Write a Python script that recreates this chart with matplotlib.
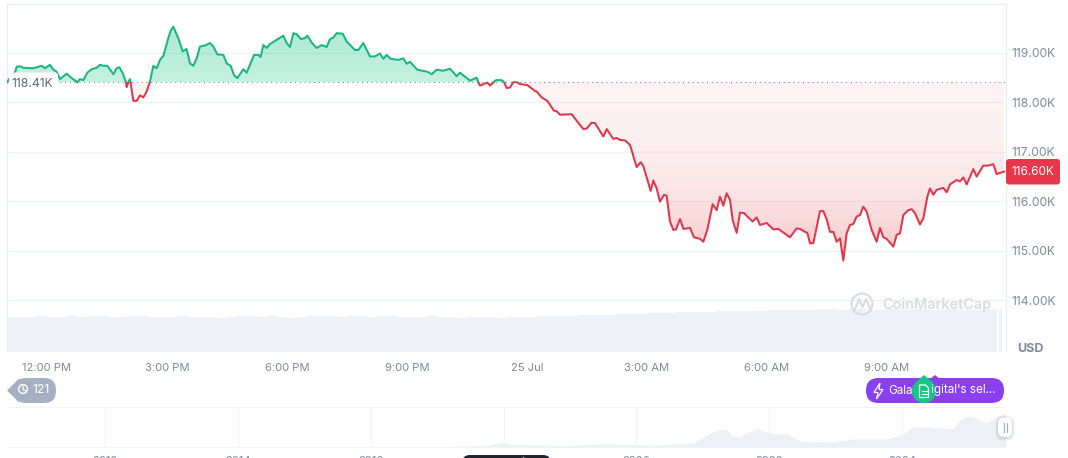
import numpy as np
import matplotlib
matplotlib.use("Agg")
import matplotlib.pyplot as plt
from matplotlib.patches import Rectangle, FancyBboxPatch, Circle, Polygon, PathPatch
from matplotlib.path import Path

plt.rcParams['font.family'] = ['Inter', 'DejaVu Sans']

W, H = 1068, 458

# price, minutes after 12:00 PM on 24 Jul, in thousands of USD
price_minutes = [-60, -57, -47.5, -45.5, -40.5, -35.5, -20.5, -8, -3, 4.5, 9.5, 14.5, 19.5, 29.5, 37, 45.5, 49.5, 54.5,
    60.5, 67, 74.5, 79.5, 84.5, 90.5, 99.5, 104.5, 108.5, 113.5, 118.5, 119.5, 121.5, 124.5, 129.5, 134.5, 139.5,
    144.5, 149.5, 154.5, 159.5, 164.5, 169.5, 174.5, 182, 185.5, 189.5, 197, 203.5, 209.5, 214.5, 219.5, 224.5,
    229.5, 237, 244.5, 249.5, 255.5, 264.5, 269.5, 275.5, 280.5, 285.5, 294.5, 299.5, 310.5, 317, 320.5, 324.5,
    329.5, 334.5, 354.5, 359.5, 364.5, 369.5, 374.5, 381, 387, 390.5, 397, 404.5, 412, 419.5, 424.5, 429.5, 434.5,
    443.5, 449.5, 462, 467, 474.5, 484.5, 492, 499.5, 504.5, 509.5, 515.5, 527, 534.5, 539.5, 544.5, 555.5, 570.5,
    577, 584.5, 594.5, 604.5, 614.5, 619.5, 634.5, 644.5, 647, 649.5, 660.5, 664.5, 673.5, 682, 685.5, 689.5, 694.5,
    699.5, 704.5, 709.5, 720.5, 732, 734.5, 742, 750.5, 760.5, 764.5, 769.5, 787, 799.5, 804.5, 809.5, 817, 822,
    834.5, 839.5, 849.5, 854.5, 859.5, 867, 874.5, 884.5, 890.5, 894.5, 905.5, 909.5, 914.5, 919.5, 925.5, 929.5,
    934.5, 939.5, 943.5, 949.5, 954.5, 964.5, 970.5, 979.5, 984.5, 990.5, 998.5, 1004.5, 1009.5, 1014.5, 1019.5,
    1024.5, 1028.5, 1034.5, 1039.5, 1045.5, 1052, 1058.5, 1064.5, 1069.5, 1079.5, 1089.5, 1097, 1114.5, 1124.5,
    1129.5, 1137, 1140.5, 1144.5, 1149.5, 1159.5, 1164.5, 1169.5, 1174.5, 1179.5, 1184.5, 1189.5, 1194.5, 1199.5,
    1204.5, 1209.5, 1214.5, 1219.5, 1224.5, 1229.5, 1237, 1244.5, 1249.5, 1254.5, 1259.5, 1269.5, 1274.5, 1279.5,
    1284.5, 1292, 1297, 1302, 1309.5, 1314.5, 1320.5, 1324.5, 1329.5, 1334.5, 1344.5, 1349.5, 1354.5, 1364.5,
    1369.5, 1374.5, 1379.5, 1389.5, 1394.5, 1404.5, 1412, 1419.5, 1424.5, 1435.5]
price_k = [118.41, 118.47, 118.62, 118.72, 118.73, 118.70, 118.69, 118.74, 118.69, 118.76, 118.66, 118.62, 118.47, 118.58,
    118.49, 118.41, 118.47, 118.45, 118.60, 118.67, 118.70, 118.76, 118.74, 118.74, 118.57, 118.69, 118.71, 118.59,
    118.41, 118.31, 118.39, 118.47, 118.03, 118.03, 118.14, 118.10, 118.22, 118.42, 118.74, 118.69, 118.86, 118.94,
    119.30, 119.45, 119.53, 119.30, 119.03, 119.08, 118.79, 118.74, 118.89, 119.13, 119.15, 119.20, 119.13, 118.97,
    118.96, 118.79, 118.74, 118.55, 118.49, 118.67, 118.60, 118.96, 118.96, 118.92, 119.16, 119.10, 119.18, 119.35,
    119.20, 119.12, 119.40, 119.38, 119.28, 119.30, 119.35, 119.21, 119.10, 119.16, 119.12, 119.28, 119.31, 119.40,
    119.39, 119.23, 119.06, 119.06, 119.20, 118.93, 118.93, 118.99, 118.88, 118.96, 118.88, 118.86, 118.89, 118.78,
    118.82, 118.66, 118.62, 118.57, 118.66, 118.64, 118.68, 118.53, 118.60, 118.44, 118.50, 118.41, 118.34, 118.40,
    118.34, 118.45, 118.45, 118.41, 118.29, 118.30, 118.41, 118.41, 118.37, 118.35, 118.23, 118.22, 118.10, 118.03,
    117.83, 117.82, 117.75, 117.76, 117.54, 117.46, 117.47, 117.59, 117.58, 117.31, 117.46, 117.26, 117.28, 117.24,
    117.23, 117.14, 116.69, 116.79, 116.71, 116.21, 116.42, 116.26, 115.99, 116.13, 116.11, 115.59, 115.42, 115.43,
    115.64, 115.44, 115.46, 115.27, 115.24, 115.18, 115.42, 115.94, 115.82, 116.09, 115.91, 116.16, 116.03, 115.62,
    115.36, 115.77, 115.76, 115.67, 115.59, 115.67, 115.52, 115.56, 115.43, 115.44, 115.27, 115.45, 115.44, 115.38,
    115.36, 115.15, 115.15, 115.80, 115.80, 115.63, 115.38, 115.38, 115.18, 115.25, 114.80, 115.35, 115.52, 115.54,
    115.69, 115.72, 115.89, 115.79, 115.42, 115.18, 115.46, 115.27, 115.24, 115.08, 115.32, 115.35, 115.72, 115.82,
    115.84, 115.76, 115.53, 115.65, 116.09, 116.26, 116.13, 116.23, 116.27, 116.18, 116.34, 116.43, 116.40, 116.48,
    116.34, 116.65, 116.50, 116.72, 116.72, 116.75, 116.55, 116.60]
baseline = 118.41
last_price = 116.60

# volume, one value per 15 minutes from the left edge, billions
volume = [70, 71, 70, 72, 71, 70, 72, 71, 73, 72, 71, 70, 72, 73, 71, 70, 71, 72, 70, 71,
    70, 69, 71, 72, 73, 71, 72, 70, 69, 71, 72, 73, 72, 71, 73, 72, 71, 72, 73, 71,
    70, 71, 72, 71, 70, 69, 70, 71, 70, 69, 70, 71, 71, 72, 72, 73, 73, 74, 74, 75,
    75, 76, 77, 77, 78, 78, 79, 80, 80, 81, 81, 82, 82, 83, 83, 83, 84, 84, 85, 85,
    85, 86, 86, 85, 86, 86, 85, 85, 86, 85, 85, 86, 85, 85, 86, 85, 85, 85, 86]
volume_last = 86

y_ticks = [114, 115, 116, 117, 118, 119]
x_ticks = [0, 180, 360, 540, 720, 900, 1080, 1260]
x_labels = ["12:00 PM", "3:00 PM", "6:00 PM", "9:00 PM", "25 Jul", "3:00 AM", "6:00 AM", "9:00 AM"]

# long range price under the main chart
nav_years = [2010.52, 2013.0, 2013.85, 2014.1, 2015.0, 2016.5, 2017.0, 2017.5, 2017.8, 2017.96, 2018.1, 2018.5, 2018.9,
    2019.5, 2020.2, 2020.6, 2020.86, 2021.06, 2021.26, 2021.36, 2021.46, 2021.56, 2021.68, 2021.81, 2021.96, 2022.11,
    2022.27, 2022.47, 2022.77, 2023.02, 2023.27, 2023.77, 2024.02, 2024.17, 2024.42, 2024.77, 2024.88, 2024.98,
    2025.08, 2025.28, 2025.43, 2025.56]
nav_price = [0, 0.1, 1, 0.7, 0.3, 0.6, 1, 3, 7, 18, 10, 7, 4, 11, 6, 11, 15, 42, 63, 60, 38, 35, 50, 66, 52, 45, 47, 20,
    18, 18, 28, 28, 45, 71, 70, 63, 95, 108, 105, 84, 106, 119]
nav_ticks = [2012, 2014, 2016, 2018, 2020, 2022, 2024]

GRAY = "#808a9d"
GRID = "#eff2f5"
GREEN = "#1bb580"
RED = "#e0364a"


def px_axes(left, top, right, bottom, **kw):
    return fig.add_axes([left / W, 1 - bottom / H, (right - left) / W, (bottom - top) / H], **kw)


def gradient_fill(ax, polys, rgb, y_top, y_bot, a_top, a_bot, xlim, power=1.0):
    # vertical alpha gradient clipped to the filled area
    paths = polys.get_paths()
    polys.remove()
    grad = np.zeros((256, 1, 4))
    grad[..., 0], grad[..., 1], grad[..., 2] = rgb
    grad[:, 0, 3] = a_top + (a_bot - a_top) * np.linspace(0, 1, 256) ** power
    im = ax.imshow(grad, extent=[xlim[0], xlim[1], y_bot, y_top], aspect='auto', origin='upper', zorder=2)
    im.set_clip_path(PathPatch(Path.make_compound_path(*paths), transform=ax.transData))


fig = plt.figure(figsize=(W / 100, H / 100), dpi=100, facecolor="white")

xlim = (-60, 1438.5)
ylim = (112.95, 119.99)

ax_vol = px_axes(7, 4, 1006, 352, zorder=1)
ax_vol.set_xlim(xlim)
ax_vol.set_ylim(0, 696)
ax_vol.axis("off")
vol_x = -60 + 15 * np.arange(len(volume))
ax_vol.bar(vol_x, volume, width=14.6, align="edge", color="#eef1f5", linewidth=0)
ax_vol.bar([1428], [volume_last], width=5, align="edge", color="#eef1f5", linewidth=0)

ax = px_axes(7, 4, 1006, 352, zorder=2)
ax.patch.set_visible(False)

x = np.array(price_minutes)
y = np.array(price_k)

up = ax.fill_between(x, y, baseline, where=y >= baseline, interpolate=True)
gradient_fill(ax, up, (0.086, 0.78, 0.518), 119.55, baseline, 0.36, 0.25, xlim)
down = ax.fill_between(x, y, baseline, where=y <= baseline, interpolate=True)
gradient_fill(ax, down, (0.918, 0.224, 0.263), baseline, 114.8, 0.06, 0.29, xlim, power=2.2)

# one line, two colours, split at the opening price
line_up, = ax.plot(x, y, color=GREEN, lw=1.45, zorder=4, solid_joinstyle="round")
line_up.set_clip_path(Rectangle((xlim[0], baseline), xlim[1] - xlim[0], 5, transform=ax.transData))
line_dn, = ax.plot(x, y, color=RED, lw=1.45, zorder=4, solid_joinstyle="round")
line_dn.set_clip_path(Rectangle((xlim[0], baseline - 7), xlim[1] - xlim[0], 7, transform=ax.transData))

ax.axhline(baseline, color="#7d8594", lw=0.75, ls=(0, (1, 3.6)), zorder=3)

ax.set_xlim(xlim)
ax.set_ylim(ylim)
ax.set_yticks(y_ticks)
ax.set_yticklabels([f"{v:.2f}K" for v in y_ticks])
ax.set_xticks(x_ticks)
ax.set_xticklabels(x_labels)
ax.yaxis.tick_right()
ax.tick_params(axis="both", length=0, labelcolor=GRAY, labelsize=8.1)
ax.tick_params(axis="y", pad=3.8, labelsize=8.7)
ax.tick_params(axis="x", pad=7.6)
ax.grid(axis="y", color=GRID, lw=0.9, zorder=0)
ax.set_axisbelow(True)
for name, spine in ax.spines.items():
    spine.set_color("#e9ecf0")
    spine.set_linewidth(0.9)
ax.spines["bottom"].set_visible(False)

ax_nav = px_axes(7, 407, 1006, 447, zorder=1)
ax_nav.set_xlim(2010.52, 2025.57)
ax_nav.set_ylim(0, 140)
ax_nav.fill_between(nav_years, nav_price, 0, color="#edf0f4", lw=0, zorder=2)
ax_nav.set_xticks(nav_ticks)
ax_nav.set_xticklabels([str(t) for t in nav_ticks])
ax_nav.set_yticks([])
ax_nav.tick_params(axis="x", length=0, labelcolor=GRAY, labelsize=8.1, pad=6.5)
ax_nav.grid(axis="x", color="#f3f4f6", lw=0.8, zorder=0)
ax_nav.set_axisbelow(True)
for name in ["left", "right"]:
    ax_nav.spines[name].set_visible(False)
for name in ["top", "bottom"]:
    ax_nav.spines[name].set_color("#f1f3f5")
    ax_nav.spines[name].set_linewidth(0.8)

# overlay in pixel units for the badges and labels
ov = px_axes(0, 0, W, H, zorder=5)
ov.set_xlim(0, W)
ov.set_ylim(H, 0)
ov.axis("off")


def pill(x0, y0, x1, y1, r, color, **kw):
    p = FancyBboxPatch((x0, y0), x1 - x0, y1 - y0, boxstyle=f"round,pad=0,rounding_size={r}",
                       facecolor=color, edgecolor="none", **kw)
    ov.add_patch(p)
    return p


# opening price label
pill(9, 72.5, 58, 91, 3, "white")
ov.text(32, 84, f"{baseline:.2f}K", color="#5f6878", fontsize=8.7, ha="center", va="center")

# last price tag
pill(1006, 159, 1060, 184.5, 3, "#e6384a")
ov.text(1033, 172, f"{last_price:.2f}K", color="white", fontsize=8.5, ha="center", va="center")
ov.text(1030.5, 348.5, "USD", color=GRAY, fontsize=9, fontweight="bold", ha="center", va="center")

# watermark
wm = "#d7dce3"
ov.add_patch(Circle((862, 304), 10.5, facecolor="none", edgecolor=wm, lw=1.5))
ov.plot([855, 859, 862.5, 866, 870], [309, 299, 307, 299, 308], color=wm, lw=1.5, solid_joinstyle="round")
ov.text(882, 305, "CoinMarketCap", color=wm, fontsize=10.4, fontweight="semibold", ha="left", va="center")

# history badge
hist = "#a6b0c3"
pill(14, 378, 56, 403, 12, hist)
ov.add_patch(Polygon([[7, 390.5], [19, 378.5], [19, 402.5]], closed=True, facecolor=hist, edgecolor="none"))
ov.add_patch(Circle((23, 389), 4.4, facecolor="none", edgecolor="white", lw=1))
ov.plot([23, 23, 26], [386, 389.5, 391], color="white", lw=0.9)
ov.text(41, 390, "121", color="white", fontsize=8.8, ha="center", va="center")

# news and event badges
purple = "#8a3ff0"
pill(866, 378, 1004, 403, 12.5, purple)
ov.add_patch(Polygon([[935, 375], [929, 380], [941, 380]], closed=True, facecolor=purple, edgecolor="none"))
ov.add_patch(Polygon([[880, 383], [874, 392.5], [878, 392.5], [876.5, 399], [883, 389.5], [879, 389.5]],
                     closed=True, facecolor="none", edgecolor="white", lw=0.9))
ov.text(888, 390.5, "Gala", color="white", fontsize=8.4, ha="left", va="center")
ov.text(995, 390.5, "igital's sel...", color="white", fontsize=8.4, ha="right", va="center")
ov.add_patch(Polygon([[924, 375], [915, 383], [933, 383]], closed=True, facecolor="#16c784", edgecolor="none"))
ov.add_patch(Circle((924, 391), 12, facecolor="#16c784", edgecolor="none"))
ov.add_patch(Polygon([[919.5, 385], [925.5, 385], [928.5, 388], [928.5, 397.5], [919.5, 397.5]],
                     closed=True, facecolor="none", edgecolor="white", lw=0.9))
ov.plot([921.5, 926.5], [391, 391], color="white", lw=0.8)
ov.plot([921.5, 926.5], [394, 394], color="white", lw=0.8)

# navigator handle
for grow, alpha in [(3, 0.05), (2, 0.07), (1, 0.09)]:
    pill(998 - grow, 417.5 - grow + 1, 1012 + grow, 437 + grow + 1, 6 + grow, "#58667e", alpha=alpha)
pill(998, 417.5, 1012, 437, 6, "white")
ov.plot([1003.5, 1003.5], [423, 431.5], color="#a6b0c3", lw=0.9)
ov.plot([1006.5, 1006.5], [423, 431.5], color="#a6b0c3", lw=0.9)

# dark pill cut off by the bottom edge
pill(462, 455, 551, 475, 8, "#222531")
ov.plot([523, 523], [456.5, 458], color="white", lw=0.8)

fig.savefig("out.png", dpi=100)
